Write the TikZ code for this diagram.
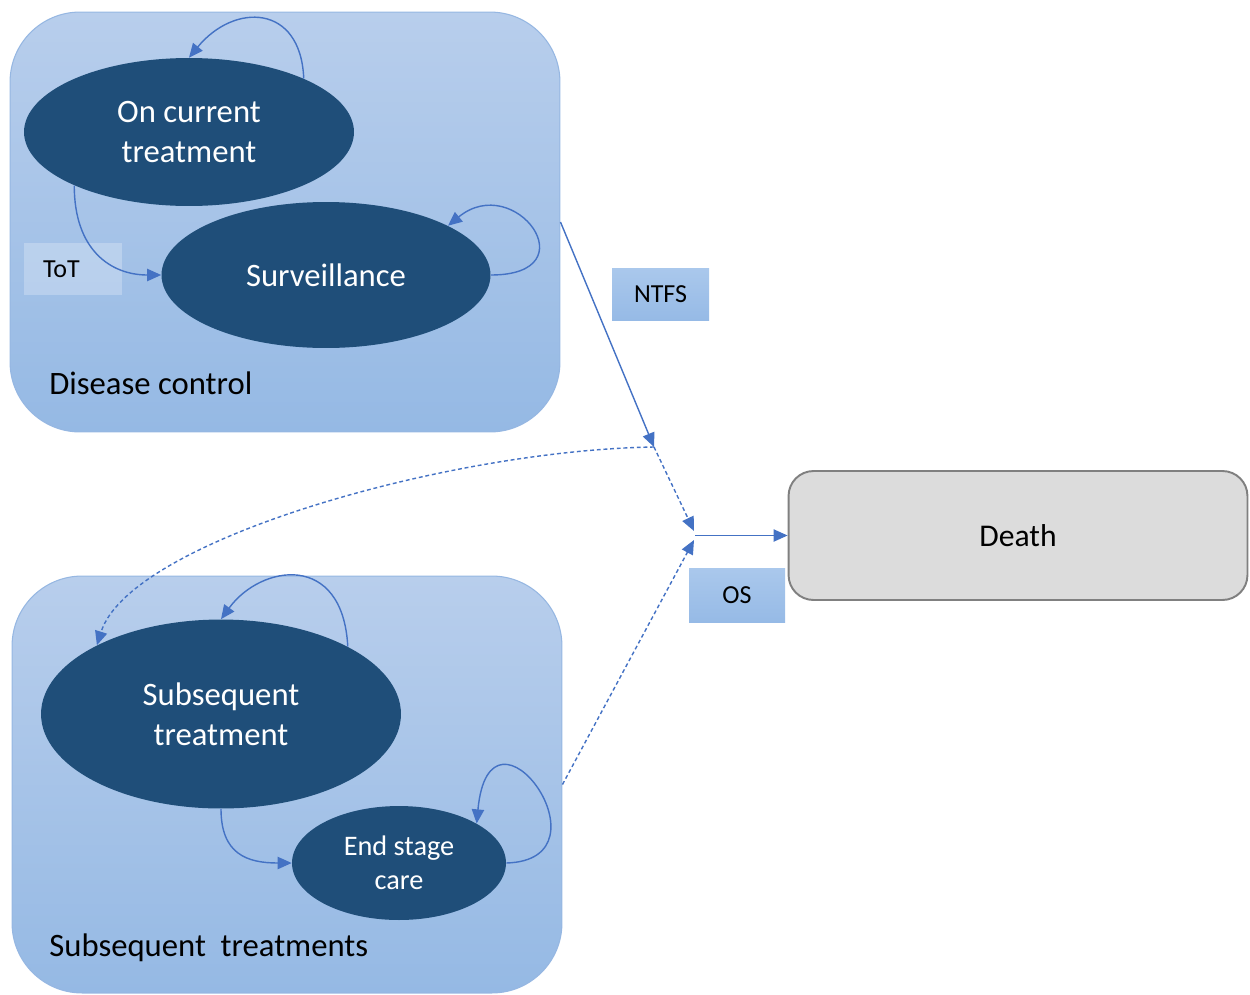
\documentclass[tikz,border=0pt]{standalone}
\usepackage{fontspec}
\setmainfont{Carlito}
\usetikzlibrary{arrows.meta,shapes.geometric}
\definecolor{connc}{RGB}{68,114,196}
\definecolor{ellfill}{RGB}{31,78,121}
\definecolor{grptop}{RGB}{184,206,236}
\definecolor{grpbot}{RGB}{149,185,228}
\definecolor{grpline}{RGB}{150,183,226}
\definecolor{lbltop}{RGB}{170,200,236}
\definecolor{lblbot}{RGB}{150,186,230}
\definecolor{deathfill}{RGB}{220,220,220}
\definecolor{deathline}{RGB}{128,128,128}
\begin{document}
\begin{tikzpicture}[x=0.02cm,y=-0.02cm,
  group/.style={draw=grpline, line width=0.6pt, rounded corners=1.4cm,
    top color=grptop, bottom color=grpbot, minimum width=11cm, inner sep=0pt},
  state/.style={ellipse, fill=ellfill, text=white, align=center, inner sep=0pt,
    font=\fontsize{18.6}{22.7}\selectfont},
  lbl/.style={top color=lbltop, bottom color=lblbot, minimum width=1.94cm,
    minimum height=1.04cm, inner sep=0pt, font=\fontsize{14.8}{17}\selectfont},
  title/.style={anchor=west, inner sep=0pt, font=\fontsize{18.6}{22}\selectfont},
  link/.style={draw=connc, line width=0.8pt, -{Triangle[length=8pt,width=7pt]}},
  dlink/.style={link, dash pattern=on 2.2pt off 1.6pt}
]
\useasboundingbox (0,0) rectangle (1250,994);

% group boxes
\node[group, minimum height=8.4cm] (dc) at (285,222) {};
\node[group, minimum height=8.34cm] (st) at (287,784.5) {};

% states
\node[state, minimum width=6.6cm, minimum height=2.96cm] (oct) at (189,132) {On current\\treatment};
\node[state, minimum width=6.58cm, minimum height=2.92cm] (surv) at (326,275) {Surveillance};
\node[state, minimum width=7.2cm, minimum height=3.78cm] (sub) at (221,714) {Subsequent\\treatment};
\node[state, minimum width=4.28cm, minimum height=2.28cm,
      font=\fontsize{16.1}{19.3}\selectfont] (esc) at (399,863) {End stage\\care};

% group titles
\node[title] (dctitle) at (49,383) {Disease control};
\node[title] (sttitle) at (49,948) {Subsequent\ \ treatments};

% labels
\node[fill=white, fill opacity=0.25, text opacity=1, text width=1.2cm, align=left,
      inner xsep=0.38cm, minimum height=1.04cm, inner ysep=0pt,
      font=\fontsize{14.8}{17}\selectfont] (tot) at (73,269) {ToT};
\node[lbl] (ntfs) at (660.5,294) {NTFS};
\node[lbl, minimum width=1.92cm, minimum height=1.08cm] (os) at (737,595) {OS};

% death
\node[draw=deathline, line width=1.1pt, fill=deathfill, rounded corners=0.5cm,
      minimum width=9.18cm, minimum height=2.58cm, inner sep=0pt,
      font=\fontsize{18}{22}\selectfont] (death) at (1018,535.5) {Death};

% junctions
\coordinate (j1) at (654,447);
\coordinate (j2) at (695,535.5);
\coordinate (j2a) at (694,531);
\coordinate (j2b) at (694,540);

% self loops and internal transitions
\draw[link] (oct.25) .. controls +(-3,-75) and +(45,-55) .. (oct.90);
\draw[link] (oct.205) .. controls +(0,65) and +(-50,0) .. (surv.west);
\draw[link] (surv.east) .. controls +(100,0) and +(67,-55) .. (surv.22);
\draw[link] (sub.28) .. controls +(-5,-95) and +(40,-55) .. (sub.north);
\draw[link] (sub.south) .. controls +(0,45) and +(-45,0) .. (esc.west);
\draw[link] (esc.east) .. controls +(110,-3) and +(13,-140) .. (esc.27);

% between groups
\draw[link] (dc.east) -- (j1);
\draw[dlink] (j1) .. controls (450,450) and (130,540) .. (sub.151);
\draw[dlink] (j1) -- (j2a);
\draw[dlink] (st.east) -- (j2b);
\draw[link] (j2) -- (death.west);
\end{tikzpicture}
\end{document}
